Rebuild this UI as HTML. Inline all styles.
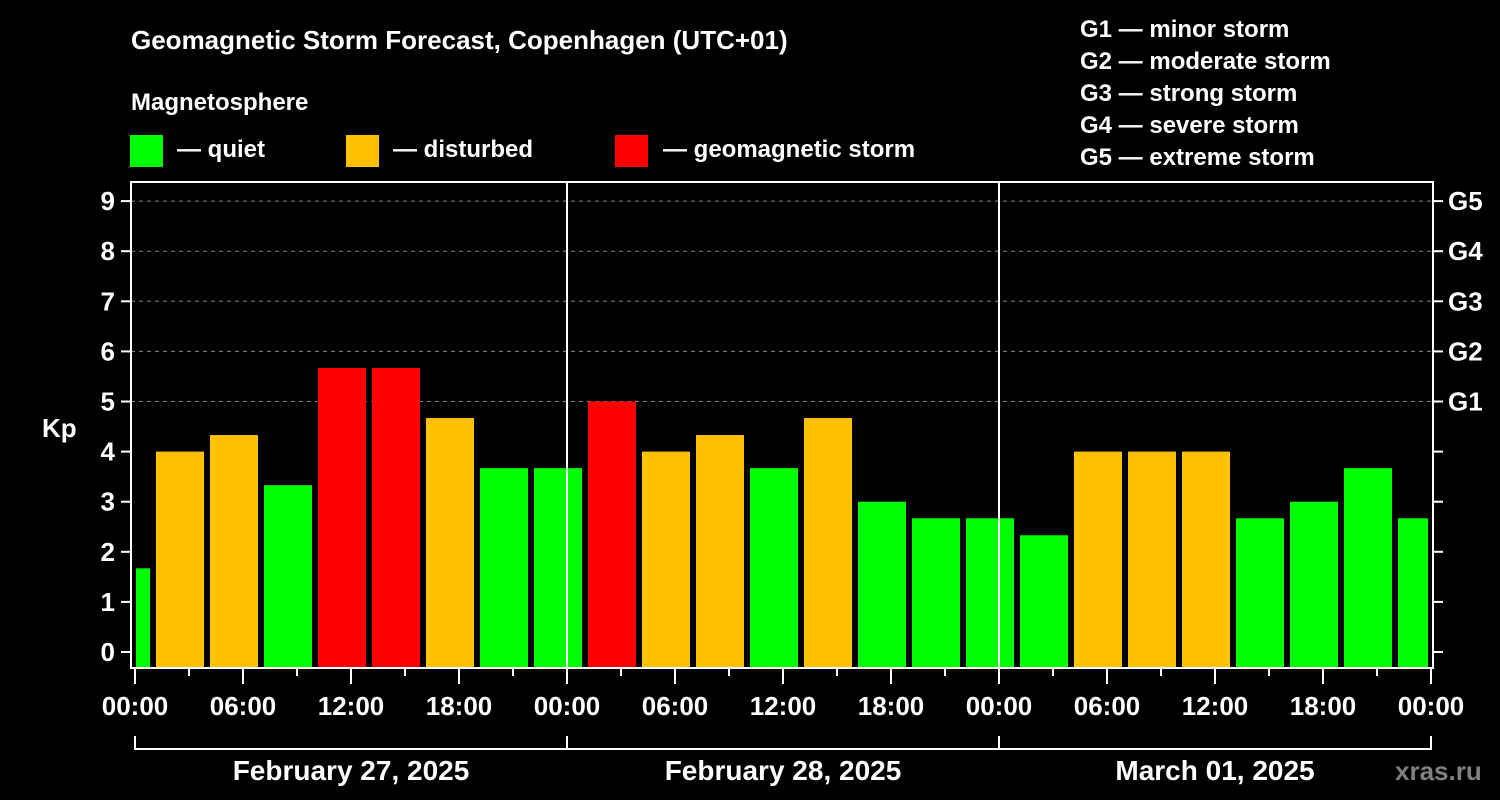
<!DOCTYPE html>
<html><head><meta charset="utf-8"><style>
html,body{margin:0;padding:0;background:#000;}
svg{display:block;font-family:"Liberation Sans",Arial,sans-serif;font-weight:bold;}
</style></head><body>
<svg id="chart" width="1500" height="800" viewBox="0 0 1500 800">
<rect x="0" y="0" width="1500" height="800" fill="#000"/>
<text x="131" y="49" fill="#fff" font-size="26">Geomagnetic Storm Forecast, Copenhagen (UTC+01)</text>
<text x="131" y="110" fill="#fff" font-size="24">Magnetosphere</text>
<g><rect x="130" y="135" width="33" height="32" fill="#00ff00"/><text x="177" y="157" fill="#fff" font-size="24">— quiet</text></g>
<g><rect x="346" y="135" width="33" height="32" fill="#ffc000"/><text x="393" y="157" fill="#fff" font-size="24">— disturbed</text></g>
<g><rect x="615" y="135" width="33" height="32" fill="#ff0000"/><text x="663" y="157" fill="#fff" font-size="24">— geomagnetic storm</text></g>
<g fill="#fff" font-size="24">
<text x="1080" y="37">G1 — minor storm</text>
<text x="1080" y="69">G2 — moderate storm</text>
<text x="1080" y="101">G3 — strong storm</text>
<text x="1080" y="133">G4 — severe storm</text>
<text x="1080" y="165">G5 — extreme storm</text>
</g>
<text x="42" y="437" fill="#fff" font-size="26">Kp</text>
<g id="grid"></g><g id="bars"></g><g id="axes"></g>
<text x="1395" y="780" fill="#808080" font-size="26">xras.ru</text>
</svg>
<script>
const kpValues=[1.67,4,4.33,3.33,5.67,5.67,4.67,3.67,3.67,5,4,4.33,3.67,4.67,3,2.67,2.67,2.33,4,4,4,2.67,3,3.67,2.67];
const yTicks=[0,1,2,3,4,5,6,7,8,9];
const gLabels=["G1","G2","G3","G4","G5"];
const xTickLabels=["00:00","06:00","12:00","18:00","00:00","06:00","12:00","18:00","00:00","06:00","12:00","18:00","00:00"];
const dayLabels=["February 27, 2025","February 28, 2025","March 01, 2025"];
const NS="http://www.w3.org/2000/svg";
const X0=135,PXH=18,Y0=652,PXK=50.1,LEFT=131,RIGHT=1433,TOP=182,BOT=668,HMAX=72;
const xs=h=>X0+h*PXH, ys=k=>Y0-k*PXK;
function mk(tag,attrs,parent){const e=document.createElementNS(NS,tag);for(const k in attrs)e.setAttribute(k,attrs[k]);parent.appendChild(e);return e;}
const grid=document.getElementById('grid'),bars=document.getElementById('bars'),axes=document.getElementById('axes');
yTicks.forEach(v=>{
 if(v>=5){const l=mk('line',{x1:LEFT,x2:RIGHT,y1:ys(v),y2:ys(v),stroke:'#888','stroke-width':1,'stroke-dasharray':'4,4'},grid);
 
 }
 const t=mk('line',{x1:LEFT-10,x2:LEFT,y1:ys(v),y2:ys(v),stroke:'#fff','stroke-width':2},axes);
 
 
 const t2=mk('line',{x1:RIGHT,x2:RIGHT+10,y1:ys(v),y2:ys(v),stroke:'#fff','stroke-width':2},axes);
 
 
 const tx=mk('text',{x:LEFT-16,y:ys(v)+9,fill:'#fff','font-size':26,'text-anchor':'end'},axes);tx.textContent=v;
 
 
});
gLabels.forEach((g,i)=>{const tx=mk('text',{x:1448,y:ys(5+i)+9,fill:'#fff','font-size':26},axes);tx.textContent=g;
 
 });
kpValues.forEach((v,i)=>{
 let h0=i===0?-2:1+3*(i-1),h1=h0+3;
 let x0=xs(h0)+3,x1=xs(h1)-3;
 x0=Math.max(x0,X0+1);x1=Math.min(x1,xs(HMAX)-3);
 const c=v>=5?'#ff0000':(v>=4?'#ffc000':'#00ff00');
 const r=mk('rect',{x:x0,y:ys(v),width:x1-x0,height:BOT-ys(v),fill:c},bars);
 
 
});
const frame=mk('rect',{x:LEFT,y:TOP,width:RIGHT-LEFT,height:BOT-TOP,fill:'none',stroke:'#fff','stroke-width':2},axes);


[24,48].forEach(h=>{const l=mk('line',{x1:xs(h),x2:xs(h),y1:TOP,y2:BOT,stroke:'#fff','stroke-width':2},axes);
 
 });
for(let h=0;h<=HMAX;h+=3){const major=h%6===0;
 const t=mk('line',{x1:xs(h),x2:xs(h),y1:BOT,y2:BOT+(major?16:8),stroke:'#fff','stroke-width':2},axes);
 
 }
xTickLabels.forEach((s,i)=>{const tx=mk('text',{x:xs(i*6),y:715,fill:'#fff','font-size':26,'text-anchor':'middle'},axes);tx.textContent=s;
 
 });
const br=mk('path',{d:`M${xs(0)},736V749H${xs(HMAX)}V736M${xs(24)},736V749M${xs(48)},736V749`,fill:'none',stroke:'#fff','stroke-width':2},axes);


dayLabels.forEach((s,i)=>{const tx=mk('text',{x:xs(i*24+12),y:780,fill:'#fff','font-size':28,'text-anchor':'middle'},axes);tx.textContent=s;
 
 });
</script>
</body></html>
